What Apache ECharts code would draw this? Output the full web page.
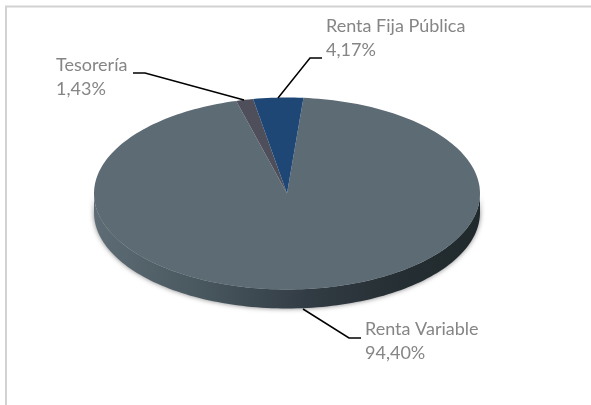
<!DOCTYPE html>
<html><head><meta charset="utf-8">
<style>html,body{margin:0;padding:0;background:#fff}#c{width:591px;height:405px}</style>
<script src="https://cdn.jsdelivr.net/npm/echarts@6/dist/echarts.min.js"></script>
</head><body><div id="c"></div>
<script>
const categories = ['Renta Variable', 'Tesorería', 'Renta Fija Pública'];
const values = [94.40, 1.43, 4.17];

const sliceColors = ['#5d6b75', '#4e4f5b', '#1f4776'];
const firstSliceDeg = 4.9;
const pie = {cx: 287, cy: 193.5, rx: 193, ry: 96, depth: 19};
const labelFont = '400 18px Lato, "Open Sans", sans-serif';
const labelColor = '#858585';
const labelLineHeight = 24;
const labelPos = [[365, 329], [56, 65], [326, 26]];
const leaders = [
  [[303, 309], [349, 338], [361, 338]],
  [[244, 100], [145, 73], [133, 73]],
  [[278, 98], [310, 58], [322, 58]]
];

const total = values.reduce((a, b) => a + b, 0);
function ePoint(deg, dy) {
  const a = deg * Math.PI / 180;
  return [pie.cx + pie.rx * Math.sin(a), pie.cy - pie.ry * Math.cos(a) + (dy || 0)];
}
function sliceAngles(i) {
  let s = firstSliceDeg;
  for (let k = 0; k < i; k++) s += values[k] / total * 360;
  return [s, s + values[i] / total * 360];
}
function arc(from, to, dy) {
  const pts = [], n = Math.max(4, Math.ceil(Math.abs(to - from) / 1.5));
  for (let k = 0; k <= n; k++) pts.push(ePoint(from + (to - from) * k / n, dy));
  return pts;
}
const chart = echarts.init(document.getElementById('c'), null, {renderer: 'canvas'});
chart.setOption({
  animation: false,
  backgroundColor: '#ffffff',
  graphic: [
    {type: 'polyline', silent: true, shape: {points: [[6, 405], [6, 6.5], [591, 6.5]]},
     style: {stroke: '#d2d2d2', lineWidth: 2, fill: null}}
  ],
  series: [
    {
      type: 'custom', coordinateSystem: 'none', silent: true, z: 1,
      data: [0],
      renderItem: function () {
        const pts = arc(90, 270, 0).concat(arc(270, 90, pie.depth));
        return {
          type: 'polygon', shape: {points: pts},
          style: {
            fill: new echarts.graphic.LinearGradient(0, 0, 1, 0, [
              {offset: 0, color: '#5e6d75'},
              {offset: 0.3, color: '#47555d'},
              {offset: 0.55, color: '#323c44'},
              {offset: 0.8, color: '#252e32'},
              {offset: 1, color: '#20292c'}
            ]),
            shadowBlur: 5, shadowColor: 'rgba(0,0,0,0.5)'
          }
        };
      }
    },
    {
      type: 'custom', coordinateSystem: 'none', silent: true, z: 2,
      data: values,
      renderItem: function (params) {
        const [s, e] = sliceAngles(params.dataIndex);
        const pts = [[pie.cx, pie.cy]].concat(arc(s, e, 0));
        return {type: 'polygon', shape: {points: pts},
                style: {fill: sliceColors[params.dataIndex]}};
      }
    },
    {
      type: 'custom', coordinateSystem: 'none', silent: true, z: 3,
      data: values,
      renderItem: function (params) {
        const i = params.dataIndex;
        const pct = values[i].toFixed(2).replace('.', ',') + '%';
        return {
          type: 'group',
          children: [
            {type: 'polyline', shape: {points: leaders[i]},
             style: {stroke: '#000', lineWidth: 1.5, fill: null}},
            {type: 'text', style: {text: categories[i], x: labelPos[i][0], y: labelPos[i][1],
              font: labelFont, fill: labelColor, verticalAlign: 'middle'}},
            {type: 'text', style: {text: pct, x: labelPos[i][0], y: labelPos[i][1] + labelLineHeight,
              font: labelFont, fill: labelColor, verticalAlign: 'middle'}}
          ]
        };
      }
    }
  ]
});
</script></body></html>
